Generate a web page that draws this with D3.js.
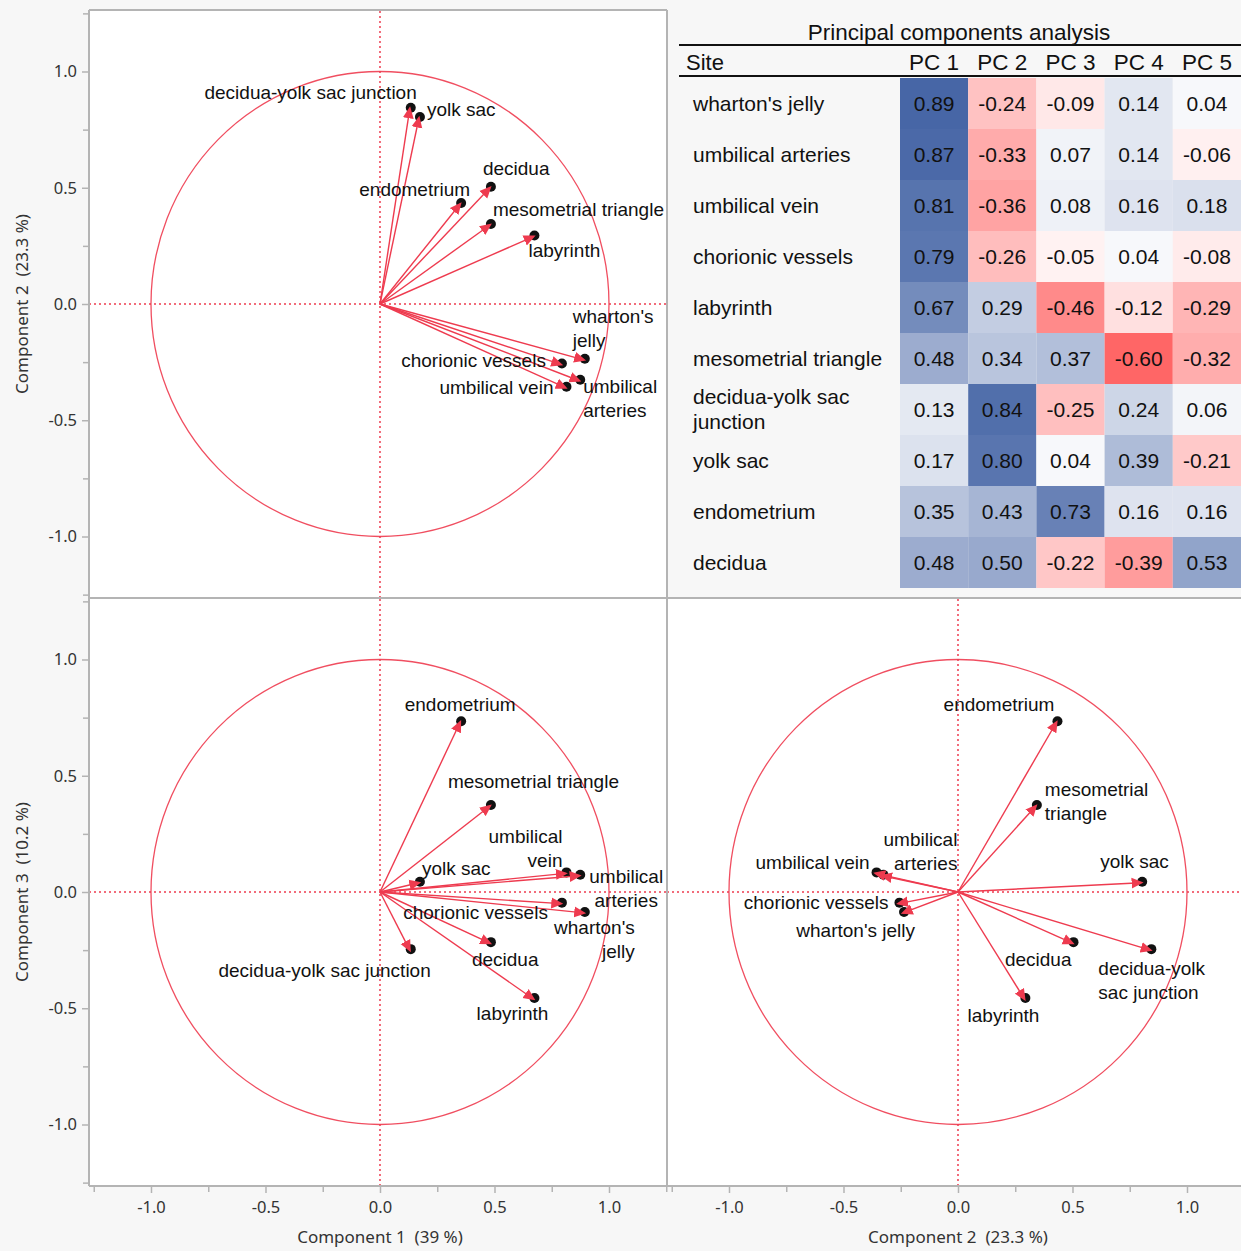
<!DOCTYPE html>
<html lang="en">
  <head>
    <meta charset="UTF-8" />
    <title>PCA loadings</title>
    <script src="https://cdn.jsdelivr.net/npm/d3@7"></script>
    <style>
      body { margin: 0; background: #f7f7f7; }
      svg { display: block; }
      text { white-space: pre; }
    </style>
  </head>
  <body>
    <div id="wrapper"></div>
    <script>
      // loadings
      const sites = ["wharton's jelly", "umbilical arteries", "umbilical vein", "chorionic vessels",
        "labyrinth", "mesometrial triangle", "decidua-yolk sac junction", "yolk sac", "endometrium", "decidua"]
      const pc1 = [0.89, 0.87, 0.81, 0.79, 0.67, 0.48, 0.13, 0.17, 0.35, 0.48]
      const pc2 = [-0.24, -0.33, -0.36, -0.26, 0.29, 0.34, 0.84, 0.80, 0.43, 0.50]
      const pc3 = [-0.09, 0.07, 0.08, -0.05, -0.46, 0.37, -0.25, 0.04, 0.73, -0.22]
      const pc4 = [0.14, 0.14, 0.16, 0.04, -0.12, -0.60, 0.24, 0.39, 0.16, -0.39]
      const pc5 = [0.04, -0.06, 0.18, -0.08, -0.29, -0.32, 0.06, -0.21, 0.16, 0.53]
      const pcNames = ["PC 1", "PC 2", "PC 3", "PC 4", "PC 5"]
      const axisTitles = ["Component 1  (39 %)", "Component 2  (23.3 %)", "Component 3  (10.2 %)"]
      const majorTicks = [-1, -0.5, 0, 0.5, 1]
      const minorTicks = [-1.25, -0.75, -0.25, 0.25, 0.75, 1.25]
      const tableTitle = "Principal components analysis"

      // label placement per panel: [anchor, dx, dy, lines]
      const labelPlace = {
        "12": {
          "wharton's jelly": ["start", -11, -43, ["wharton's", "jelly"]],
          "umbilical arteries": ["start", 4, 6, ["umbilical", "arteries"]],
          "umbilical vein": ["end", -12, 0],
          "chorionic vessels": ["end", -15, -4],
          "labyrinth": ["start", -5, 14],
          "mesometrial triangle": ["start", 3, -16],
          "decidua-yolk sac junction": ["end", 7, -16],
          "yolk sac": ["start", 8, -9],
          "endometrium": ["end", 10, -15],
          "decidua": ["start", -7, -19]
        },
        "13": {
          "wharton's jelly": ["end", 51, 14, ["wharton's", "jelly"]],
          "umbilical arteries": ["middle", 47, 1, ["umbilical", "arteries"]],
          "umbilical vein": ["end", -3, -37, ["umbilical", "vein"]],
          "chorionic vessels": ["end", -13, 9],
          "labyrinth": ["end", 15, 14],
          "mesometrial triangle": ["start", -42, -25],
          "decidua-yolk sac junction": ["end", 21, 20],
          "yolk sac": ["start", 3, -14],
          "endometrium": ["middle", 0, -18],
          "decidua": ["start", -18, 16]
        },
        "23": {
          "wharton's jelly": ["end", 12, 17],
          "umbilical arteries": ["end", 75, -36, ["umbilical", "arteries"]],
          "umbilical vein": ["end", -6, -11],
          "chorionic vessels": ["end", -10, -1],
          "labyrinth": ["end", 15, 16],
          "mesometrial triangle": ["start", 9, -17, ["mesometrial", "triangle"]],
          "decidua-yolk sac junction": ["start", -52, 18, ["decidua-yolk", "sac junction"]],
          "yolk sac": ["start", -41, -21],
          "endometrium": ["end", -2, -18],
          "decidua": ["end", -1, 16]
        }
      }

      const W = 1241, H = 1251
      const red = '#ee3b4f'
      const frame = '#b4b4b4'
      const labelFont = '"Liberation Sans", Arial, sans-serif'
      const axisFont = '"Noto Sans", "Open Sans", sans-serif'
      const fmt1 = v => d3.format('.1f')(v).replace('\u2212', '-')
      const fmt2 = v => d3.format('.2f')(v).replace('\u2212', '-')

      const svg = d3.select('#wrapper').append('svg')
        .attr('width', W).attr('height', H)
        .style('background', '#f7f7f7')

      svg.append('defs').append('marker')
        .attr('id', 'tip')
        .attr('viewBox', '0 -5 10 10')
        .attr('refX', 8).attr('refY', 0)
        .attr('markerUnits', 'userSpaceOnUse')
        .attr('markerWidth', 12).attr('markerHeight', 12)
        .attr('orient', 'auto')
        .append('path')
        .attr('d', 'M0,-4.5L10,0L0,4.5Z')
        .attr('fill', red)

      // grid of cells
      const cols = [[89, 667], [667, 1245]]
      const rows = [[598, 10], [1186, 598]]
      const dom = [-1.2707, 1.2533]
      const ydom = [-1.2645, 1.2645]
      const xs = cols.map(r => d3.scaleLinear().domain(dom).range(r))
      const ys = rows.map(r => d3.scaleLinear().domain(ydom).range(r))

      const comps = [pc1, pc2, pc3]
      const panels = [
        { key: "12", cx: 0, cy: 0, a: 0, b: 1 },
        { key: "13", cx: 0, cy: 1, a: 0, b: 2 },
        { key: "23", cx: 1, cy: 1, a: 1, b: 2 }
      ]

      panels.forEach(p => {
        const x = xs[p.cx], y = ys[p.cy]
        const g = svg.append('g')
        g.append('rect')
          .attr('x', x.range()[0]).attr('y', y.range()[1])
          .attr('width', x.range()[1] - x.range()[0])
          .attr('height', y.range()[0] - y.range()[1])
          .attr('fill', '#fff')

        // zero lines
        g.append('line')
          .attr('x1', x.range()[0]).attr('x2', x.range()[1])
          .attr('y1', y(0)).attr('y2', y(0))
          .attr('stroke', red).attr('stroke-width', 1.5).attr('stroke-dasharray', '2,3')
        g.append('line')
          .attr('x1', x(0)).attr('x2', x(0))
          .attr('y1', y.range()[0]).attr('y2', y.range()[1])
          .attr('stroke', red).attr('stroke-width', 1.5).attr('stroke-dasharray', '2,3')

        g.append('ellipse')
          .attr('cx', x(0)).attr('cy', y(0))
          .attr('rx', x(1) - x(0)).attr('ry', y(0) - y(1))
          .attr('fill', 'none').attr('stroke', red).attr('stroke-width', 1.3).attr('opacity', 0.9)

        const pts = sites.map((s, i) => ({ s, vx: comps[p.a][i], vy: comps[p.b][i] }))

        g.selectAll('circle.pt').data(pts).join('circle')
          .attr('class', 'pt')
          .attr('cx', d => x(d.vx) + 1).attr('cy', d => y(d.vy) - 1)
          .attr('r', 5)
          .attr('fill', '#111')

        g.selectAll('line.arr').data(pts).join('line')
          .attr('class', 'arr')
          .attr('x1', x(0)).attr('y1', y(0))
          .attr('x2', d => x(d.vx)).attr('y2', d => y(d.vy))
          .attr('stroke', red).attr('stroke-width', 1.4)
          .attr('marker-end', 'url(#tip)')

        const place = labelPlace[p.key]
        pts.forEach(d => {
          const [anchor, dx, dy, lines] = place[d.s]
          const t = g.append('text')
            .attr('x', x(d.vx) + dx).attr('y', y(d.vy) + dy)
            .attr('text-anchor', anchor)
            .attr('font-family', labelFont).attr('font-size', 19)
            .attr('fill', '#111')
          ;(lines || [d.s]).forEach((ln, k) => {
            t.append('tspan')
              .attr('x', x(d.vx) + dx)
              .attr('dy', k === 0 ? '0.35em' : 24)
              .text(ln)
          })
        })
      })

      // frame lines
      const fl = [
        [89, 10, 667, 10], [89, 10, 89, 1186], [667, 10, 667, 1186],
        [89, 598, 1241, 598], [89, 1186, 1241, 1186]
      ]
      svg.selectAll('line.frame').data(fl).join('line')
        .attr('x1', d => d[0]).attr('y1', d => d[1]).attr('x2', d => d[2]).attr('y2', d => d[3])
        .attr('stroke', frame).attr('stroke-width', 2)

      // axes
      function styleAxis(sel) {
        sel.select('.domain').remove()
        sel.selectAll('line').attr('stroke', frame).attr('stroke-width', 1.5)
        sel.selectAll('text').attr('font-family', axisFont).attr('font-size', 16.5).attr('fill', '#333')
      }
      ys.forEach(y => {
        svg.append('g').attr('transform', 'translate(89,0)')
          .call(d3.axisLeft(y).tickValues(majorTicks).tickFormat(fmt1).tickSize(7).tickPadding(5))
          .call(styleAxis)
        svg.append('g').attr('transform', 'translate(89,0)')
          .call(d3.axisLeft(y).tickValues(minorTicks).tickFormat('').tickSize(6))
          .call(styleAxis)
      })
      xs.forEach(x => {
        svg.append('g').attr('transform', 'translate(0,1186)')
          .call(d3.axisBottom(x).tickValues(majorTicks).tickFormat(fmt1).tickSize(7).tickPadding(8))
          .call(styleAxis)
        svg.append('g').attr('transform', 'translate(0,1186)')
          .call(d3.axisBottom(x).tickValues(minorTicks).tickFormat('').tickSize(6))
          .call(styleAxis)
      })

      // axis titles
      xs.forEach((x, i) => {
        svg.append('text')
          .attr('x', x(0)).attr('y', 1243)
          .attr('text-anchor', 'middle')
          .attr('font-family', axisFont).attr('font-size', 17).attr('fill', '#333')
          .text(axisTitles[i])
      })
      ys.forEach((y, i) => {
        svg.append('text')
          .attr('transform', `translate(28,${y(0)}) rotate(-90)`)
          .attr('text-anchor', 'middle')
          .attr('font-family', axisFont).attr('font-size', 17).attr('fill', '#333')
          .text(axisTitles[i + 1])
      })

      // loadings table
      const pcs = [pc1, pc2, pc3, pc4, pc5]
      const colX = d3.scaleBand().domain(pcNames).range([900, 1241])
      const rowY = d3.scaleBand().domain(sites).range([78, 588])
      const color = d3.scaleLinear().domain([-1, 0, 1])
        .range(['rgb(255,0,0)', '#ffffff', 'rgb(48,83,155)'])

      const tg = svg.append('g').attr('font-family', labelFont).attr('fill', '#111')
      tg.append('text')
        .attr('x', 959).attr('y', 32).attr('dy', '0.35em')
        .attr('text-anchor', 'middle').attr('font-size', 22.5)
        .text(tableTitle)
      tg.append('line').attr('x1', 679).attr('x2', 1241).attr('y1', 45).attr('y2', 45)
        .attr('stroke', '#111').attr('stroke-width', 2)
      tg.append('line').attr('x1', 679).attr('x2', 1241).attr('y1', 76).attr('y2', 76)
        .attr('stroke', '#111').attr('stroke-width', 2)
      tg.append('text')
        .attr('x', 686).attr('y', 62).attr('dy', '0.35em').attr('font-size', 22)
        .text('Site')
      tg.selectAll('text.hdr').data(pcNames).join('text')
        .attr('class', 'hdr')
        .attr('x', d => colX(d) + colX.bandwidth() / 2).attr('y', 62).attr('dy', '0.35em')
        .attr('text-anchor', 'middle').attr('font-size', 22.5)
        .text(d => d)

      const cells = []
      sites.forEach((s, i) => pcs.forEach((pc, j) => cells.push({ s, pc: pcNames[j], v: pc[i] })))
      tg.selectAll('rect.cell').data(cells).join('rect')
        .attr('class', 'cell')
        .attr('x', d => colX(d.pc)).attr('y', d => rowY(d.s))
        .attr('width', colX.bandwidth()).attr('height', rowY.bandwidth())
        .attr('fill', d => color(d.v))
      tg.selectAll('text.val').data(cells).join('text')
        .attr('class', 'val')
        .attr('x', d => colX(d.pc) + colX.bandwidth() / 2)
        .attr('y', d => rowY(d.s) + rowY.bandwidth() / 2).attr('dy', '0.35em')
        .attr('text-anchor', 'middle').attr('font-size', 21)
        .text(d => fmt2(d.v))

      const rowLines = { "decidua-yolk sac junction": ["decidua-yolk sac", "junction"] }
      sites.forEach(s => {
        const lines = rowLines[s] || [s]
        const t = tg.append('text')
          .attr('x', 693)
          .attr('y', rowY(s) + rowY.bandwidth() / 2 - (lines.length - 1) * 12.5)
          .attr('font-size', 21)
        lines.forEach((ln, k) => {
          t.append('tspan').attr('x', 693).attr('dy', k === 0 ? '0.35em' : 25).text(ln)
        })
      })
    </script>
  </body>
</html>
